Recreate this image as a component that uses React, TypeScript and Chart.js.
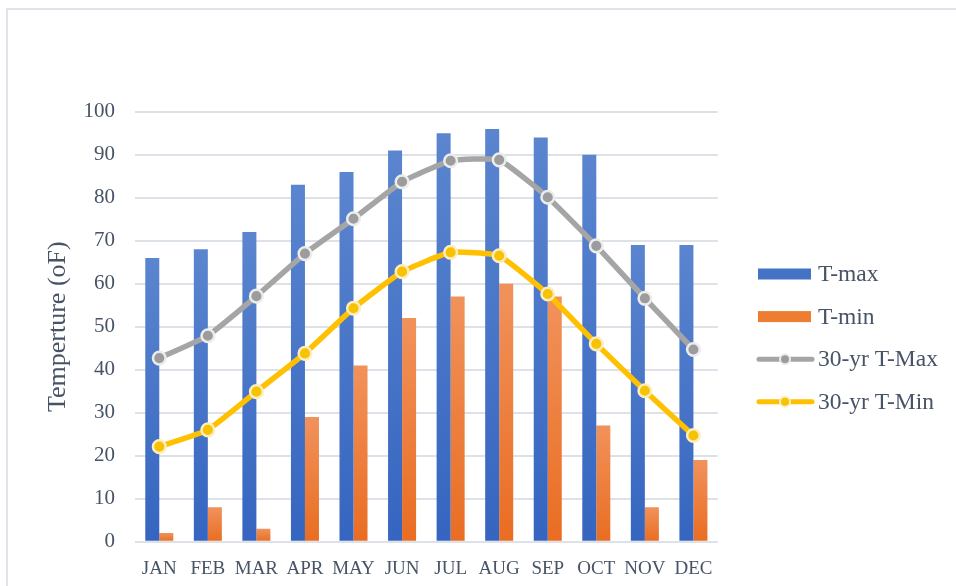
import React, { useEffect, useRef } from "react";
import { Chart, registerables } from "chart.js";

Chart.register(...registerables);

// Monthly temperatures (°F)
const months = ["JAN", "FEB", "MAR", "APR", "MAY", "JUN", "JUL", "AUG", "SEP", "OCT", "NOV", "DEC"];
const tMax = [66, 68, 72, 83, 86, 91, 95, 96, 94, 90, 69, 69];
const tMin = [2, 8, 3, 29, 41, 52, 57, 60, 57, 27, 8, 19];
const normalMax = [42.7, 47.9, 57.1, 67, 75.1, 83.7, 88.6, 88.8, 80.1, 68.8, 56.6, 44.7];
const normalMin = [22.1, 26, 34.9, 43.8, 54.3, 62.8, 67.3, 66.5, 57.6, 46, 35.1, 24.7];
const seriesNames = ["T-max", "T-min", "30-yr T-Max", "30-yr T-Min"];
const yMin = 0;
const yMax = 100;
const yStep = 10;

const TEXT = "#475366";
const GRID = "#dde1e8";
const SERIF = "'Liberation Serif', 'Times New Roman', serif";

// Vertical gradient per bar, from its top down to the zero line
function barGradient(top: string, bottom: string) {
  return (ctx: any) => {
    const chart = ctx.chart;
    if (!chart.chartArea || ctx.type !== "data") return bottom;
    const y = chart.scales.y;
    const yTop = y.getPixelForValue(ctx.raw as number);
    const yBase = y.getPixelForValue(0);
    if (!(yBase > yTop)) return bottom;
    const g = chart.ctx.createLinearGradient(0, yTop, 0, yBase);
    g.addColorStop(0, top);
    g.addColorStop(1, bottom);
    return g;
  };
}

// Legend drawn to the right of the plot
const sideLegend = {
  id: "sideLegend",
  afterDraw(chart: any) {
    const ctx = chart.ctx as CanvasRenderingContext2D;
    const x0 = 757;
    const x1 = 812;
    const textX = 818;
    const firstY = 274;
    const gap = 42.6;
    ctx.save();
    chart.data.datasets.forEach((ds: any, i: number) => {
      const cy = firstY + i * gap;
      if (ds.type === "bar") {
        ctx.fillStyle = ds.legendColor;
        ctx.fillRect(x0 + 1, cy - 5.5, x1 - x0 - 2, 11);
      } else {
        ctx.strokeStyle = ds.borderColor;
        ctx.lineWidth = 5;
        ctx.lineCap = "round";
        ctx.beginPath();
        ctx.moveTo(x0 + 2, cy);
        ctx.lineTo(x1, cy);
        ctx.stroke();
        ctx.beginPath();
        ctx.arc((x0 + x1) / 2 + 0.5, cy, 5, 0, Math.PI * 2);
        ctx.fillStyle = ds.pointBackgroundColor;
        ctx.fill();
        ctx.lineWidth = 2;
        ctx.strokeStyle = ds.pointBorderColor;
        ctx.stroke();
      }
      ctx.fillStyle = TEXT;
      ctx.font = `23.5px ${SERIF}`;
      ctx.textBaseline = "middle";
      ctx.textAlign = "left";
      ctx.fillText(ds.label, textX, cy + 1);
    });
    ctx.restore();
  },
};

export default function App() {
  const canvasRef = useRef<HTMLCanvasElement | null>(null);

  useEffect(() => {
    document.body.style.margin = "0";
    const canvas = canvasRef.current;
    if (!canvas) return;

    const chart = new Chart(canvas, {
      type: "bar",
      data: {
        labels: months,
        datasets: [
          {
            type: "bar",
            label: seriesNames[0],
            data: tMax,
            backgroundColor: barGradient("#5b85cf", "#3565c0"),
            legendColor: "#4472c4",
            order: 2,
          } as any,
          {
            type: "bar",
            label: seriesNames[1],
            data: tMin,
            backgroundColor: barGradient("#f1925b", "#e96d22"),
            legendColor: "#ed7d31",
            order: 2,
          } as any,
          {
            type: "line",
            label: seriesNames[2],
            data: normalMax,
            borderColor: "#a5a5a5",
            borderWidth: 5.5,
            tension: 0.12,
            pointRadius: 6.3,
            pointBackgroundColor: "#9c9c9c",
            pointBorderColor: "#ececec",
            pointBorderWidth: 2.5,
            order: 1,
          },
          {
            type: "line",
            label: seriesNames[3],
            data: normalMin,
            borderColor: "#ffc000",
            borderWidth: 5.5,
            tension: 0.12,
            pointRadius: 6.3,
            pointBackgroundColor: "#f7c200",
            pointBorderColor: "#fbedc0",
            pointBorderWidth: 2.5,
            order: 0,
          },
        ],
      },
      options: {
        animation: false,
        responsive: true,
        maintainAspectRatio: false,
        layout: { padding: { top: 111.7, right: 238.3, bottom: 0, left: 0 } },
        plugins: {
          legend: { display: false },
          tooltip: { enabled: false },
          title: { display: false },
        },
        datasets: {
          bar: { categoryPercentage: 0.577, barPercentage: 1 },
        },
        scales: {
          x: {
            grid: { display: false },
            border: { display: false },
            ticks: {
              color: TEXT,
              font: { family: SERIF, size: 19 },
              padding: 8,
              maxRotation: 0,
              autoSkip: false,
            },
            afterFit: (s: any) => {
              s.height = 586 - 541.7;
            },
          },
          y: {
            min: yMin,
            max: yMax,
            grid: { color: GRID, lineWidth: 2, drawTicks: false },
            border: { display: false },
            ticks: {
              stepSize: yStep,
              color: TEXT,
              font: { family: SERIF, size: 21 },
              padding: 20,
            },
            title: {
              display: true,
              text: "Temperture (oF)",
              color: TEXT,
              font: { family: SERIF, size: 26, weight: "normal" },
              padding: { top: 43, bottom: 0 },
            },
            afterFit: (s: any) => {
              s.width = 135;
            },
          },
        },
      },
      plugins: [sideLegend],
    });

    return () => chart.destroy();
  }, []);

  return (
    <div style={{ position: "fixed", left: 0, top: 0, width: 956, height: 586, background: "#ffffff" }}>
      <div
        style={{
          position: "absolute",
          left: 6,
          top: 8,
          right: 0,
          bottom: 0,
          borderTop: "2px solid #dfe3ea",
          borderLeft: "2px solid #dfe3ea",
        }}
      />
      <div style={{ position: "absolute", left: 0, top: 0, width: 956, height: 586 }}>
        <canvas ref={canvasRef} />
      </div>
    </div>
  );
}
